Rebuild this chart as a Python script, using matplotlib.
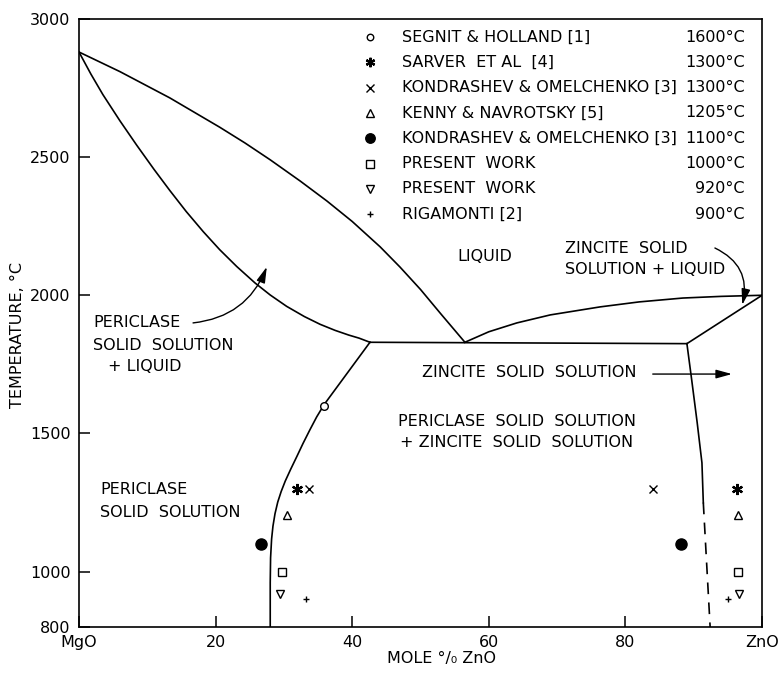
import matplotlib
matplotlib.use('Agg')
import matplotlib.pyplot as plt

plt.rcParams['font.family'] = 'DejaVu Sans'
FS = 11.5

# tie-line data: source, temperature, MgO-rich and ZnO-rich compositions (mole % ZnO)
sources = ['SEGNIT & HOLLAND [1]', 'SARVER  ET AL  [4]', 'KONDRASHEV & OMELCHENKO [3]',
           'KENNY & NAVROTSKY [5]', 'KONDRASHEV & OMELCHENKO [3]', 'PRESENT  WORK',
           'PRESENT  WORK', 'RIGAMONTI [2]']
temps = [1600, 1300, 1300, 1205, 1100, 1000, 920, 900]
periclase_x = [35.8, 31.9, 33.7, 30.5, 26.7, 29.7, 29.5, 33.3]
zincite_x = [None, 96.3, 84.0, 96.5, 88.1, 96.5, 96.6, 95.0]

# phase boundaries
liq_mgo_x = [0, 6, 13.3, 20.6, 24.3, 28, 32.4, 36.3, 40, 44.1, 47, 50, 53, 56.5]
liq_mgo_y = [2880, 2809, 2714, 2608, 2551, 2490, 2413, 2341, 2267, 2175, 2102, 2021, 1932, 1830]
sol_mgo_x = [0, 1.75, 3.5, 6, 8.45, 11, 13.3, 15.7, 18.2, 20.6, 23.1, 25.8, 28, 30.4,
             33, 35.3, 37.5, 39.5, 41, 42.6]
sol_mgo_y = [2880, 2800, 2726, 2631, 2543, 2455, 2379, 2303, 2230, 2165, 2104, 2044, 2001, 1960,
             1923, 1895, 1873, 1856, 1845, 1830]
solv_mgo_x = [42.6, 35.9, 34.8, 33.8, 32.8, 31.9, 31.0, 30.2, 29.6, 29.1, 28.7, 28.4, 28.2,
              28.05, 28.0, 28.0]
solv_mgo_y = [1830, 1605, 1560, 1513, 1464, 1417, 1371, 1328, 1290, 1252, 1210, 1165, 1118,
              1050, 960, 800]
eut_x = [42.6, 89.0]
eut_y = [1830, 1825]
liq_zno_x = [56.5, 60, 64.1, 69, 76.3, 82, 88.4, 94, 100]
liq_zno_y = [1830, 1868, 1900, 1929, 1958, 1976, 1990, 1996, 2000]
sol_zno_x = [89.0, 100]
sol_zno_y = [1825, 2000]
solv_zno_x = [89.0, 89.7, 90.5, 91.2, 91.4]
solv_zno_y = [1825, 1694, 1540, 1394, 1250]
solv_zno_dash_x = [91.4, 92.4]
solv_zno_dash_y = [1250, 800]

styles = [
    dict(marker='o', ms=5.5, mfc='white'),
    dict(marker=(6, 2, 0), ms=8, mew=1.6),
    dict(marker='x', ms=6, mew=1.0),
    dict(marker='^', ms=6, mfc='white'),
    dict(marker='o', ms=8, mfc='black'),
    dict(marker='s', ms=6, mfc='white'),
    dict(marker='v', ms=6, mfc='white'),
    dict(marker='+', ms=5, mew=1.0),
]

fig = plt.figure(figsize=(7.78, 6.75), dpi=100)
ax = fig.add_axes([0.1015, 0.0711, 0.878, 0.901])

line_kw = dict(color='black', lw=1.2)
ax.plot(liq_mgo_x, liq_mgo_y, **line_kw)
ax.plot(sol_mgo_x, sol_mgo_y, **line_kw)
ax.plot(solv_mgo_x, solv_mgo_y, **line_kw)
ax.plot(eut_x, eut_y, **line_kw)
ax.plot(liq_zno_x, liq_zno_y, **line_kw)
ax.plot(sol_zno_x, sol_zno_y, **line_kw)
ax.plot(solv_zno_x, solv_zno_y, **line_kw)
ax.plot(solv_zno_dash_x, solv_zno_dash_y, color='black', lw=1.2, ls=(0, (7, 5)))

# experimental points and the key in the top right corner
for i, (src, t, xp, xz, st) in enumerate(zip(sources, temps, periclase_x, zincite_x, styles)):
    ax.plot([xp], [t], ls='none', color='black', mec='black', **st)
    if xz is not None:
        ax.plot([xz], [t], ls='none', color='black', mec='black', **st)
    ky = 0.970 - i * 0.0416
    kst = dict(st)
    kst['ms'] = st['ms'] * 0.85
    ax.plot([0.426], [ky], ls='none', color='black', mec='black',
            transform=ax.transAxes, clip_on=False, **kst)
    ax.text(0.473, ky, src, transform=ax.transAxes, fontsize=FS, va='center', ha='left')
    ax.text(0.975, ky, f'{t}°C', transform=ax.transAxes, fontsize=FS, va='center', ha='right')

# field labels
ax.text(59.4, 2139, 'LIQUID', fontsize=FS, ha='center', va='center')
ax.text(71.2, 2171, 'ZINCITE  SOLID', fontsize=FS, ha='left', va='center')
ax.text(71.2, 2092, 'SOLUTION + LIQUID', fontsize=FS, ha='left', va='center')
ax.text(2.05, 1900, 'PERICLASE', fontsize=FS, ha='left', va='center')
ax.text(2.05, 1817, 'SOLID  SOLUTION', fontsize=FS, ha='left', va='center')
ax.text(4.2, 1741, '+ LIQUID', fontsize=FS, ha='left', va='center')
ax.text(50.2, 1719, 'ZINCITE  SOLID  SOLUTION', fontsize=FS, ha='left', va='center')
ax.text(46.7, 1542, 'PERICLASE  SOLID  SOLUTION', fontsize=FS, ha='left', va='center')
ax.text(47.0, 1466, '+ ZINCITE  SOLID  SOLUTION', fontsize=FS, ha='left', va='center')
ax.text(3.1, 1296, 'PERICLASE', fontsize=FS, ha='left', va='center')
ax.text(3.1, 1216, 'SOLID  SOLUTION', fontsize=FS, ha='left', va='center')

arrow_kw = dict(arrowstyle='-|>,head_length=0.8,head_width=0.22', color='black',
                lw=1.0, shrinkA=0, shrinkB=0, mutation_scale=12)
ax.annotate('', xy=(27.5, 2103), xytext=(16.7, 1900),
            arrowprops=dict(connectionstyle='arc3,rad=0.3', **arrow_kw))
ax.annotate('', xy=(97.1, 1965), xytext=(93.1, 2171),
            arrowprops=dict(connectionstyle='arc3,rad=-0.4', **arrow_kw))
ax.annotate('', xy=(95.6, 1715), xytext=(84.0, 1715), arrowprops=arrow_kw)

ax.set_xlim(0, 100)
ax.set_ylim(800, 3000)
ax.set_xticks([0, 20, 40, 60, 80, 100])
ax.set_xticklabels(['MgO', '20', '40', '60', '80', 'ZnO'])
ax.set_yticks([800, 1000, 1500, 2000, 2500, 3000])
ax.tick_params(direction='in', length=8, width=1.1, labelsize=FS, pad=6)
for sp in ax.spines.values():
    sp.set_linewidth(1.2)

ax.set_xlabel('MOLE °/₀ ZnO', fontsize=FS)
ax.xaxis.set_label_coords(0.53, -0.04)
ax.set_ylabel('TEMPERATURE, °C', fontsize=FS)
ax.yaxis.set_label_coords(-0.079, 0.48)

fig.savefig('out.png', dpi=100)
